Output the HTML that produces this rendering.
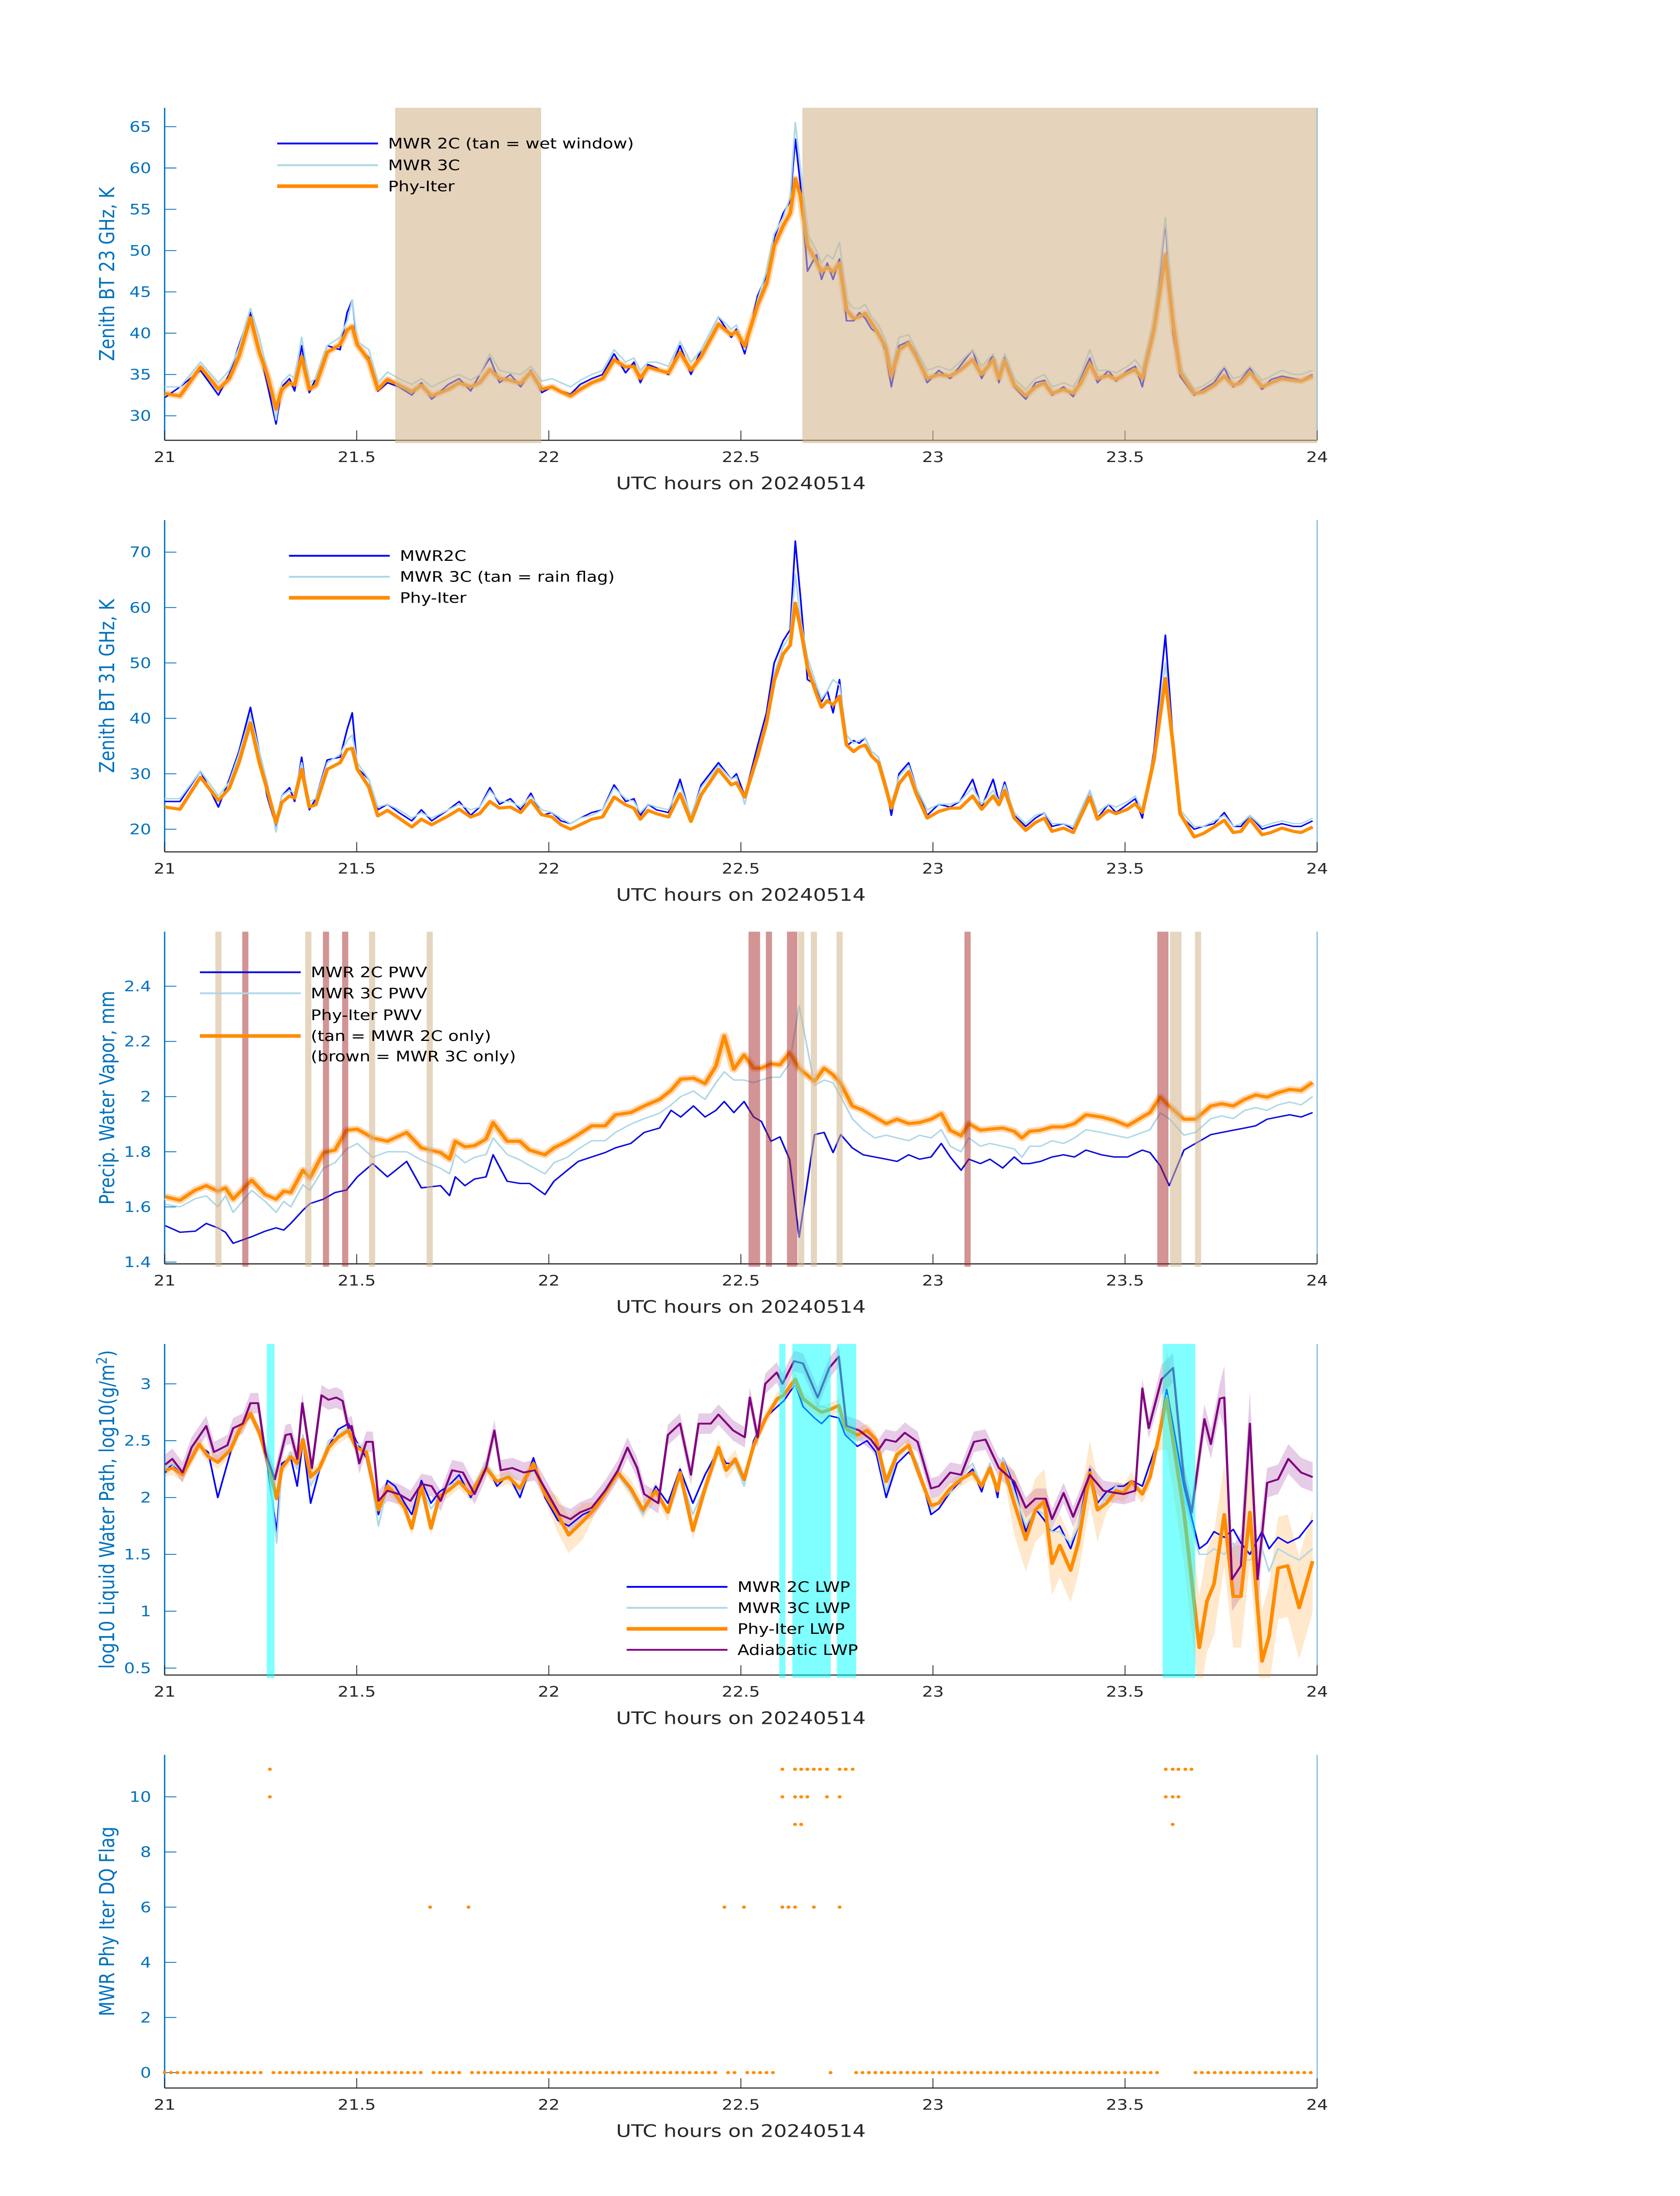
<!DOCTYPE html>
<html><head><meta charset="utf-8"><title>MWR 20240514</title>
<style>html,body{margin:0;padding:0;background:#fff;overflow:hidden;width:100vw;height:100vh}
svg{display:block;width:100vw;height:100vh}
text{font-family:"DejaVu Sans","Liberation Sans",sans-serif}</style></head>
<body>
<svg id="fig" xmlns="http://www.w3.org/2000/svg" viewBox="0 0 1000 1568.627" preserveAspectRatio="none"></svg>
<script>
// ---------- shared axis data ----------
const xTickLabels = ["21","21.5","22","22.5","23","23.5","24"];
const xTickHours = [21,21.5,22,22.5,23,23.5,24];

// ---------- Panel 1: 23 GHz ----------
const t23 = [0,2.4,5.6,8.4,10.1,11.6,13.4,14.8,16.0,17.4, 18.3,19.5,20.3,21.4,22.6,23.6,25.4,27.4,28.5,29.3, 30.1,31.9,33.3,34.8,36.6,38.6,40.1,41.7,44.3,46.0, 47.8,49.2,50.8,52.3,54.0,55.6,57.2,58.9,60.5,61.9, 63.4,64.9,66.7,68.4,70.2,72.0,73.3,74.3,75.5,76.8, 78.7,80.5,82.2,83.8,86.5,88.5,89.3,90.6,92.6,94.0, 95.2,96.6,97.7,98.5,99.3,100.4,101.8,102.6,103.5,104.4, 105.4,106.5,107.6,108.5,109.4,110.4,111.5,112.6,113.5,114.7, 116.2,117.4,119.1,120.9,122.7,124.2,126.2,127.6,129.4,130.3, 131.2,132.7,134.5,136.0,137.4,138.6,140.4,141.9,143.1,144.5, 145.7,147.4,148.6,150.4,151.6,152.7,154.5,156.3,157.5,158.6, 160.8,162.2,163.9,165.5,166.9,168.1,169.5,171.4,172.8,174.5, 176.3,177.5,179.3];
const phy23 = [32.7,32.4,35.9,33.2,34.5,37.2,41.9,37.7,35,30.8, 33.2,34,33.7,37.2,33.2,33.7,37.7,38.6,40.4,40.8, 38.6,36.7,33.2,34.4,33.7,32.9,33.7,32.4,33.2,34, 33.5,34,35.6,34.5,34.3,33.9,35.3,33.2,33.5,32.9, 32.4,33.2,34,34.5,36.8,35.9,36,34.5,35.9,35.6, 35.2,37.7,35.5,37.2,41.1,39.8,40.2,38.4,43.4,46, 50.6,53,54.5,58.7,56.7,50.6,48.7,47.4,48,47.4, 48.5,42.8,41.8,42,42.4,41.2,39.9,38.3,34.8,38, 38.8,37.2,34.5,35,34.8,35.5,36.8,35,36.8,34.5, 36.7,33.7,32.4,33.5,34,32.7,33.2,32.7,34,36.3, 34.5,34.9,34.4,35.2,35.6,34.5,40.4,49.5,41.2,35.3, 32.7,32.9,33.7,34.8,33.7,34,35.3,33.5,34,34.5, 34.3,34.2,34.8];
const mwr2c23 = [32.2,33.5,35.5,32.5,35,38.5,42.5,38,34,29, 33.5,34.5,33,38.5,32.8,34.5,38.5,38,42.5,44, 38.5,37,33,34,33.5,32.5,34,32,33.8,34.5, 33,35,37,34,35,33.5,35.5,32.8,33.5,33, 32.6,33.8,34.5,35,37.5,35.2,36.5,34,36.2,35.8, 35,38.5,35,38,42,39.5,40.5,37.5,44.5,47, 51.5,54.5,56,63.5,58,47.5,49.5,46.5,48.5,46.5, 49,41.5,41.5,42.5,41.8,40.5,40,37.8,33.5,38.5, 39,37.5,34,35.5,34.5,36,38,34.5,37.5,34, 37.5,33.5,32,34,34.3,32.5,33.5,32.3,34.5,37, 34,35.5,34.2,35.5,36,33.5,41,53.5,40,34.8, 32.5,33.2,34,35.8,33.5,34.3,35.8,33.2,34.4,34.8, 34.5,34.3,35];
const mwr3c23 = [33.5,33.5,36.5,34,35.5,38.2,43,39.5,35.5,29.5, 34,35,34.5,39.5,34,34.5,38.5,39.5,41.5,44, 39,38,34,35.3,34.5,33.8,34.5,33.5,34.5,35, 34.3,35,37.5,35.5,35.2,35,36,34.2,34.5,34, 33.5,34.3,35,35.5,38,36.5,37,35.5,36.5,36.5, 36,39,36.5,38,42,40.5,41,38,44,47.5, 52,54,56.5,65.5,60,52,50,48.5,49.5,49, 51,44,43,43,43.5,42,41,39.2,35.5,39.5, 39.8,38,35.5,36,35.5,36.5,38,36,37.5,35.5, 37.5,34.5,33.2,34.5,35,33.5,34,33.5,35,38, 35.5,35.5,35.2,36,36.8,35.5,41.5,54,42,36, 33.2,33.6,34.5,36,34.5,34.8,36,34.3,34.8,35.5, 35,35,35.5];
const wetStart = [21.6,22.66];
const wetEnd = [21.98,24.0];
const yTicks1 = [30,35,40,45,50,55,60,65];

// ---------- Panel 2: 31 GHz ----------
const phy31 = [24,23.6,29.4,25.2,27.4,32,39.2,32,27.2,21.2, 24.8,26,25.6,30.8,24,24.4,30.8,32,34.4,34.6, 30.8,27.6,22.4,23.4,22,20.4,21.8,20.8,22.4,23.6, 22.2,22.8,25,23.8,24,23,25.2,22.6,22.2,20.8, 20,20.8,21.8,22.2,25.8,24.4,23.8,21.8,23.4,22.8, 22.2,26.4,21.4,26.2,30.8,28,28.4,25.8,33.2,39.2, 46.8,51.6,53.2,60.8,56.4,49.2,44.4,42,43.2,42.4, 44,35.2,34,34.8,35.2,33.2,32,27.6,23.8,28.2, 30.4,26.4,22,23.2,23.8,23.8,26,23.6,26,24.4, 27,22,19.8,21.2,22,19.6,20.2,19.4,22.4,25.8, 21.8,23.4,22.8,23.6,24.6,23,32.4,47.2,35.2,22.8, 18.6,19.2,20.4,21.6,19.4,19.6,21.8,19,19.4,20.2, 19.6,19.4,20.4];
const mwr2c31 = [25,25,30.5,24,29,34,42,34,26,20.5, 26,27.5,25,33,23.5,25.5,32.5,33,38,41, 31,29,23.5,24.5,23,21.5,23.5,21.5,23.5,25, 22.5,24,27.5,24.5,25.5,23.5,26.5,22.5,23,21.5, 21,22,23,23.5,28,25,25.5,22.5,24.5,23.5, 23,29,22,28,32,29,30,26,35,41, 50,54,56,72,62,47,46,43,45,41, 47,35,36,35.5,36.5,34,33,28,22.5,30, 32,27.5,22.5,24.5,24,25,29,24,29,25, 28.5,22.5,20.5,22,23,20.5,21,20,23,27, 22,24.5,23,24.5,25.5,22,34,55,36,22.5, 20,20.5,21,23,20.5,20.5,22.5,20,20.5,21, 20.5,20.5,21.5];
const mwr3c31 = [25.5,25.5,30.5,26,28.5,33.5,40.5,34,28.5,19.5, 26,27,26.5,32,25,25.5,32,33.5,36,37, 32,29,24,24.5,23.5,22,23,22,23.5,24.5, 23.5,24,27,25,25,24,26,23.5,23,22, 21,22,22.5,23.5,27.5,25.5,25,23,24.5,24, 23.5,28,22.5,27.5,31.5,29,29.5,24.5,34,40, 48,53,55,66,58,51,46,43.5,45,47, 46,37,35.5,36,36.5,34,33,28.5,24.5,29.5, 31.5,27.5,23.5,24.5,24.5,25,27.5,24.5,27,25, 28,23,21,22.5,23,21,21,20.5,23.5,27, 23,24.5,24,25,26,23.5,33.5,50,36,23.5, 20.5,20.5,21.5,22.5,20.5,21,22.5,20.5,21,21.5, 21,21,22];
const yTicks2 = [20,30,40,50,60,70];

// ---------- Panel 3: PWV ----------
const tPwv = [0.1,2.4,4.8,6.5,8.3,9.5,10.7,13.6,15.7,17.4, 18.6,19.7,21.6,22.7,24.8,26.6,28.4,30.1,32.5,34.8, 37.8,40.1,43.1,44.5,45.4,46.9,48.4,50.2,51.3,53.5, 55.5,57.0,59.4,60.8,62.9,64.6,66.7,68.8,70.4,72.8, 74.9,77.3,79.1,80.6,82.6,84.4,86.1,87.4,88.9,90.5, 92.0,93.2,94.7,96.1,97.6,99.1,101.5,103.0,104.4,105.6, 107.4,109.1,110.9,112.7,114.4,116.2,117.9,119.7,121.3,122.7, 124.4,125.6,127.4,128.9,130.9,132.7,133.9,135.1,136.8,138.6, 140.4,142.1,143.9,146.3,148.3,150.4,152.7,153.9,155.5,156.9, 159.2,161.0,163.4,165.1,166.9,168.7,170.4,172.2,173.9,175.7, 177.5,179.3];
const phyPwv = [1.637,1.624,1.661,1.677,1.657,1.669,1.628,1.697,1.645,1.628, 1.657,1.652,1.733,1.705,1.797,1.806,1.878,1.882,1.85,1.838, 1.87,1.814,1.797,1.773,1.838,1.818,1.822,1.846,1.906,1.838, 1.838,1.806,1.789,1.814,1.838,1.862,1.894,1.894,1.934,1.942, 1.966,1.99,2.023,2.063,2.067,2.047,2.111,2.22,2.099,2.151, 2.103,2.103,2.119,2.115,2.159,2.103,2.055,2.103,2.079,2.047, 1.966,1.95,1.926,1.902,1.918,1.902,1.906,1.918,1.938,1.878, 1.858,1.902,1.878,1.882,1.886,1.874,1.85,1.874,1.878,1.89, 1.89,1.902,1.934,1.926,1.914,1.894,1.926,1.942,1.998,1.966, 1.918,1.918,1.966,1.974,1.966,1.99,2.006,1.998,2.014,2.026, 2.022,2.051];
const mwr3cPwv = [1.61,1.6,1.63,1.64,1.6,1.64,1.58,1.66,1.62,1.58, 1.62,1.6,1.68,1.66,1.74,1.76,1.81,1.83,1.78,1.8, 1.8,1.77,1.74,1.72,1.79,1.76,1.78,1.79,1.85,1.79, 1.77,1.75,1.72,1.76,1.78,1.81,1.84,1.84,1.87,1.9, 1.92,1.94,1.97,2.0,2.02,1.99,2.05,2.09,2.06,2.06, 2.05,2.06,2.07,2.07,2.12,2.33,2.04,2.06,2.05,2.0, 1.92,1.88,1.85,1.86,1.85,1.84,1.86,1.85,1.88,1.82, 1.8,1.85,1.82,1.83,1.82,1.81,1.78,1.82,1.82,1.84, 1.83,1.85,1.88,1.87,1.86,1.85,1.87,1.88,1.94,1.92, 1.86,1.87,1.92,1.93,1.92,1.95,1.96,1.95,1.97,1.98, 1.97,2.0];
const mwr2cPwv = [1.532,1.508,1.512,1.54,1.524,1.508,1.468,1.492,1.512,1.524, 1.516,1.54,1.588,1.612,1.628,1.652,1.661,1.709,1.757,1.709, 1.765,1.669,1.677,1.641,1.709,1.677,1.701,1.709,1.789,1.693, 1.685,1.685,1.645,1.693,1.733,1.765,1.781,1.797,1.814,1.83, 1.87,1.886,1.95,1.926,1.966,1.926,1.95,1.982,1.942,1.982, 1.926,1.91,1.838,1.854,1.773,1.49,1.862,1.87,1.797,1.862, 1.814,1.789,1.781,1.773,1.765,1.789,1.773,1.781,1.83,1.781, 1.733,1.773,1.757,1.773,1.741,1.781,1.757,1.757,1.765,1.781, 1.789,1.781,1.806,1.789,1.781,1.781,1.806,1.797,1.749,1.677, 1.806,1.83,1.862,1.87,1.878,1.886,1.894,1.918,1.926,1.934, 1.926,1.942];
const tanStart = [21.132,21.366,21.532,21.682,22.649,22.682,22.749,23.617,23.682];
const tanEnd   = [21.148,21.382,21.548,21.698,22.665,22.698,22.765,23.647,23.698];
const brownStart = [21.202,21.412,21.462,22.52,22.565,22.62,23.082,23.584];
const brownEnd   = [21.218,21.428,21.478,22.55,22.581,22.647,23.098,23.613];
const yTicks3 = [1.4,1.6,1.8,2,2.2,2.4];
const yTickLabels3 = ["1.4","1.6","1.8","2","2.2","2.4"];

// ---------- Panel 4: LWP ----------
const tLwp = [0.1,1.2,2.8,5.4,6.8,8.3,10.3,11.8,13.4,14.8, 16.0,17.5,18.3,19.7,20.7,21.6,22.8,24.2,25.6,27.1, 28.7,29.9,31.5,33.4,34.8,36.0,37.5,38.6,40.1,41.6, 42.9,44.3,46.0,47.8,50.2,51.9,53.7,55.5,57.6,59.4, 61.4,63.1,65.3,67.3,69.0,70.8,72.8,74.7,76.7,78.6, 80.5,82.5,84.4,86.5,87.7,89.1,90.5,92.0,93.8,95.7, 96.7,98.5,99.7,101.5,102.6,103.8,105.3,106.3,108.2,109.7, 111.1,112.7,114.4,116.2,117.6,119.7,120.9,122.7,124.4,126.2, 127.6,128.9,130.1,130.9,132.7,134.5,136.0,137.4,138.6,139.8, 141.5,142.7,144.5,145.7,147.1,148.6,149.8,151.0,152.7,153.9, 155.1,156.5,159.2,161.6,162.8,163.9,165.5,166.9,168.1,169.5, 171.4,172.5,173.9,175.4,177.2,179.3];
const phyLwp = [2.24,2.26,2.2,2.47,2.36,2.31,2.42,2.61,2.74,2.57, 2.34,1.99,2.26,2.36,2.3,2.51,2.18,2.26,2.44,2.53, 2.59,2.44,2.4,1.89,2.1,2.03,1.91,1.73,2.1,1.73, 2.01,2.06,2.14,2.03,2.26,2.14,2.18,2.08,2.3,2.03, 1.85,1.67,1.79,1.91,2.06,2.22,2.08,1.89,2.06,1.87, 2.22,1.71,2.08,2.44,2.24,2.34,2.16,2.46,2.69,2.87, 2.9,3.04,2.87,2.79,2.75,2.77,2.81,2.61,2.55,2.59, 2.51,2.14,2.38,2.46,2.24,1.93,1.95,2.08,2.16,2.22, 2.1,2.26,2.06,2.3,1.95,1.63,1.89,1.97,1.42,1.58, 1.36,1.6,2.22,1.89,1.95,2.06,2.04,2.14,2.03,2.18, 2.49,2.87,1.87,0.68,1.09,1.24,1.85,1.13,1.13,1.87, 0.56,0.78,1.38,1.4,1.03,1.44];
const mwr2cLwp = [2.22,2.3,2.2,2.45,2.4,2.0,2.4,2.6,2.72,2.55, 2.3,1.7,2.3,2.35,2.1,2.5,1.95,2.25,2.45,2.6, 2.65,2.5,2.35,1.85,2.15,2.1,1.95,1.85,2.15,1.95, 2.05,2.1,2.2,2.0,2.3,2.1,2.2,2.0,2.35,2.0, 1.8,1.75,1.85,1.9,2.1,2.2,2.05,1.85,2.1,1.95, 2.25,1.95,2.2,2.42,2.3,2.3,2.15,2.5,2.7,2.8, 2.85,3.0,2.8,2.7,2.65,2.72,2.7,2.55,2.45,2.5, 2.4,2.0,2.3,2.4,2.3,1.85,1.9,2.05,2.15,2.25, 2.05,2.3,2.0,2.35,2.1,1.7,1.9,1.8,1.7,1.75, 1.55,1.75,2.25,1.95,2.05,2.1,2.1,2.15,2.1,2.3, 2.5,2.95,2.1,1.55,1.6,1.7,1.65,1.72,1.6,1.5, 1.7,1.55,1.65,1.6,1.65,1.8];
const mwr3cLwp = [2.26,2.3,2.22,2.45,2.38,2.3,2.45,2.62,2.75,2.6, 2.4,1.6,2.25,2.4,2.25,2.55,2.1,2.25,2.5,2.55, 2.62,2.48,2.42,1.75,2.1,2.0,1.92,1.75,2.1,1.9, 2.0,2.1,2.15,2.05,2.3,2.15,2.2,2.05,2.3,2.05, 1.85,1.7,1.8,1.9,2.1,2.2,2.05,1.85,2.05,1.9, 2.2,1.85,2.1,2.4,2.25,2.3,2.1,2.45,2.7,2.85, 2.9,3.0,2.85,2.8,2.8,2.78,2.8,2.65,2.5,2.55, 2.45,2.05,2.35,2.45,2.3,1.9,1.95,2.05,2.2,2.3, 2.1,2.3,2.05,2.35,2.05,1.75,1.9,1.85,1.7,1.7, 1.6,1.75,2.2,1.9,2.0,2.1,2.05,2.15,2.05,2.2, 2.45,2.9,2.0,1.5,1.5,1.55,1.5,1.6,1.45,1.45, 1.55,1.35,1.55,1.5,1.45,1.55];
const tAdi = [0.1,1.2,2.8,4.2,6.5,7.7,9.8,10.7,12.2,13.4, 14.6,15.7,17.2,18.9,19.7,20.7,21.5,23.0,24.5,25.6, 26.8,27.8,28.7,29.2,30.4,31.5,32.5,33.4,34.8,36.6, 38.4,40.1,41.7,43.1,44.9,46.6,48.4,50.2,51.5,52.5, 54.3,56.1,57.8,59.6,61.7,63.4,64.9,66.7,68.8,70.8, 72.3,73.8,74.9,77.1,78.6,80.5,82.2,83.4,85.3,86.5, 88.8,90.6,91.4,92.6,93.8,95.6,96.5,98.3,99.7,102.0, 103.8,105.3,106.5,108.5,110.3,111.5,112.6,114.2,115.6,117.6, 119.7,120.9,122.7,124.4,126.4,128.2,130.3,132.7,134.5,136.0, 137.6,138.6,140.4,141.9,144.5,146.6,148.6,149.8,151.6,152.7, 153.7,155.7,157.5,159.2,160.4,162.4,163.4,164.8,165.5,166.7, 168.1,169.5,170.7,172.2,173.9,175.5,177.5,179.3];
const adiLwp = [2.29,2.34,2.22,2.44,2.63,2.4,2.46,2.61,2.65,2.83, 2.83,2.4,2.16,2.55,2.56,2.34,2.83,2.26,2.9,2.86, 2.88,2.85,2.61,2.63,2.3,2.49,2.49,1.97,2.06,2.03, 1.97,2.12,2.1,1.97,2.24,2.22,2.03,2.26,2.59,2.24, 2.26,2.22,2.24,2.06,1.85,1.81,1.87,1.91,2.06,2.24, 2.44,2.26,2.03,1.95,2.55,2.65,2.2,2.65,2.65,2.73, 2.59,2.53,2.88,2.53,3.0,3.1,3.0,3.2,3.18,2.88, 3.14,3.24,2.63,2.59,2.51,2.42,2.51,2.49,2.57,2.49, 2.08,2.1,2.22,2.2,2.49,2.51,2.26,2.14,1.91,1.99, 1.99,1.81,2.04,1.83,2.2,2.06,2.04,2.03,2.06,2.96, 2.61,3.04,3.14,2.16,1.87,2.69,2.47,2.87,2.88,1.28, 1.4,2.65,1.28,2.13,2.16,2.34,2.22,2.18];
// uncertainty segments: [start minute, end minute, half-width]
const phyErrSeg = [[0,60,0.06],[60,66,0.16],[66,72,0.05],[72,90,0.08],[90,132,0.06],[132,146,0.28],[146,156,0.08],[156,181,0.45]];
const adiErrSeg = [[0,155,0.09],[155,165,0.13],[165,172,0.28],[172,181,0.13]];
const cyanStart = [21.266,22.600,22.634,22.750,23.598];
const cyanEnd   = [21.286,22.616,22.734,22.800,23.683];
const yTicks4 = [0.5,1,1.5,2,2.5,3];
const yTickLabels4 = ["0.5","1","1.5","2","2.5","3"];

// ---------- Panel 5: DQ flag ----------
const dq11Hours = [21.274,22.608,22.641,22.657,22.673,22.690,22.706,22.724,22.757,22.773,22.791,23.606,23.624,23.639,23.657,23.673];
const dq10Hours = [21.274,22.608,22.641,22.657,22.673,22.724,22.757,23.606,23.624,23.639];
const dq9Hours = [22.641,22.657,23.624];
const dq6Hours = [21.691,21.791,22.457,22.508,22.608,22.624,22.641,22.690,22.757];
const dq0MinuteRanges = [[0,15],[17,40],[42,46],[48,86],[88,89],[91,95],[104,104],[108,155],[161,179]];
const yTicks5 = [0,2,4,6,8,10];

// ================= drawing =================
const NS = "http://www.w3.org/2000/svg";
const svg = document.getElementById("fig");
const XL = 98, XR = 784;
function xH(h){ return XL + (h-21)/3*(XR-XL); }
function xM(m){ return XL + m/180*(XR-XL); }
function mk(tag, attrs, parent){
  const e = document.createElementNS(NS, tag);
  for (const k in attrs) e.setAttribute(k, attrs[k]);
  (parent||svg).appendChild(e);
  return e;
}
function linePath(ts, vs, yf){
  let d = "";
  for (let i=0;i<ts.length;i++){ d += (i?"L":"M") + xM(ts[i]).toFixed(2) + "," + yf(vs[i]).toFixed(2); }
  return d;
}
function errAt(seg, t){ for (const s of seg){ if (t>=s[0] && t<s[1]) return s[2]; } return seg[seg.length-1][2]; }
function bandPath(ts, vs, seg, yf){
  let up="", dn=[];
  for (let i=0;i<ts.length;i++){
    const e = errAt(seg, ts[i]);
    up += (i?"L":"M") + xM(ts[i]).toFixed(2) + "," + yf(vs[i]+e).toFixed(2);
    dn.push("L" + xM(ts[i]).toFixed(2) + "," + yf(vs[i]-e).toFixed(2));
  }
  return up + dn.reverse().join("") + "Z";
}

const panels = [
  {id:1, top:77, bot:314.5, ya:297, va:30, yb:90.5, vb:65, label:"Zenith BT 23 GHz, K"},
  {id:2, top:371.5, bot:608.5, ya:592.3, va:20, yb:394.4, vb:70, label:"Zenith BT 31 GHz, K"},
  {id:3, top:665.5, bot:902.8, ya:901.5, va:1.4, yb:704.5, vb:2.4, label:"Precip. Water Vapor, mm"},
  {id:4, top:960, bot:1196.5, ya:1191.5, va:0.5, yb:988.5, vb:3, label:null},
  {id:5, top:1253.5, bot:1491.5, ya:1480.5, va:0, yb:1283.5, vb:10, label:"MWR Phy Iter DQ Flag"}
];
panels.forEach(p => { p.y = v => p.ya + (v - p.va) * (p.yb - p.ya) / (p.vb - p.va); });

function frame(p, ticks, tickLabels){
  const g = mk("g", {});
  
  
  const cp = mk("clipPath", {id:"clip"+p.id}, g);
  mk("rect", {x:XL, y:p.top, width:XR-XL, height:p.bot-p.top+2}, cp);
  const la = mk("line", {x1:XL, y1:p.top, x2:XL, y2:p.bot, stroke:"#0072bd", "stroke-width":0.8}, g);
  
  
  const ra = mk("line", {x1:XR, y1:p.top, x2:XR, y2:p.bot, stroke:"#6fb2de", "stroke-width":0.6}, g);
  
  
  const ba = mk("line", {x1:XL, y1:p.bot, x2:XR, y2:p.bot, stroke:"#262626", "stroke-width":0.8}, g);
  
  
  ticks.forEach((v,i) => {
    const yy = p.y(v);
    const tk = mk("line", {x1:XL, y1:yy, x2:XL+7, y2:yy, stroke:"#0072bd", "stroke-width":0.6}, g);
    
    
    const tl = mk("text", {x:90, y:yy+3.6, "text-anchor":"end", "font-size":10.2, fill:"#0072bd"}, g);
    tl.textContent = tickLabels ? tickLabels[i] : String(v);
    
    
  });
  xTickHours.forEach((h,i) => {
    const xx = xH(h);
    const tk = mk("line", {x1:xx, y1:p.bot, x2:xx, y2:p.bot-7, stroke:"#262626", "stroke-width":0.5}, g);
    
    
    const tl = mk("text", {x:xx, y:p.bot+15.5, "text-anchor":"middle", "font-size":10.2, fill:"#262626"}, g);
    tl.textContent = xTickLabels[i];
    
    
  });
  const xl = mk("text", {x:441, y:p.bot+35, "text-anchor":"middle", "font-size":12.3, fill:"#262626"}, g);
  xl.textContent = "UTC hours on 20240514";
  
  
  const cy = (p.top + p.bot)/2;
  const yl = mk("text", {x:0, y:0, transform:"translate(68," + cy + ") rotate(-90)", "text-anchor":"middle", "font-size":12.3, fill:"#0072bd"}, g);
  if (p.label) { yl.textContent = p.label; }
  else {
    yl.textContent = "log10 Liquid Water Path, log10(g/m";
    const sup = mk("tspan", {dy:-4.5, "font-size":8.5}, yl);
    sup.textContent = "2";
    const cl = mk("tspan", {dy:4.5}, yl);
    cl.textContent = ")";
  }
  
  
}

function series(p, ts, vs, color, w, name, opacity){
  const e = mk("path", {d:linePath(ts, vs, p.y), fill:"none", stroke:color, "stroke-width":w, "stroke-linejoin":"round", "clip-path":"url(#clip"+p.id+")", opacity:(opacity||1)});
  
  
  return e;
}
function bands(p, starts, ends, fill, name){
  starts.forEach((s,i) => {
    const r = mk("rect", {x:xH(s), y:p.top, width:Math.max(0.5, xH(ends[i])-xH(s)), height:p.bot-p.top+2, fill:fill});
    
    
  });
}
function legend(x1, rows){
  const g = mk("g", {});
  
  
  rows.forEach(r => {
    if (r.color){
      const l = mk("line", {x1:x1, y1:r.ly, x2:x1+60, y2:r.ly, stroke:r.color, "stroke-width":r.w}, g);
      
      
    }
    const t = mk("text", {x:x1+66, y:r.ty+3.6, "font-size":10.2, fill:"#000"}, g);
    t.textContent = r.text;
    
    
  });
}

// ---- Panel 1
(function(){
  const p = panels[0];
  frame(p, yTicks1);
  series(p, t23, phy23, "#ffd7b0", 4.5, "phy-iter-uncertainty");
  series(p, t23, mwr2c23, "#0000ff", 1.0, "mwr-2c-23ghz-line");
  series(p, t23, mwr3c23, "#add8e6", 1.0, "mwr-3c-23ghz-line");
  series(p, t23, phy23, "#ff8c00", 2.2, "phy-iter-23ghz-line");
  bands(p, wetStart, wetEnd, "rgba(210,180,140,0.58)", "wet-window-band");
  legend(165, [
    {color:"#0000ff", w:1.3, ly:102.5, ty:102.5, text:"MWR 2C (tan = wet window)"},
    {color:"#add8e6", w:1.3, ly:118, ty:118, text:"MWR 3C"},
    {color:"#ff8c00", w:2.6, ly:133, ty:133, text:"Phy-Iter"}
  ]);
})();
// ---- Panel 2
(function(){
  const p = panels[1];
  frame(p, yTicks2);
  series(p, t23, mwr2c31, "#0000ff", 1.0, "mwr-2c-31ghz-line");
  series(p, t23, mwr3c31, "#add8e6", 1.0, "mwr-3c-31ghz-line");
  series(p, t23, phy31, "#ff8c00", 2.2, "phy-iter-31ghz-line");
  legend(172, [
    {color:"#0000ff", w:1.3, ly:397, ty:397, text:"MWR2C"},
    {color:"#add8e6", w:1.3, ly:412, ty:412, text:"MWR 3C (tan = rain flag)"},
    {color:"#ff8c00", w:2.6, ly:427, ty:427, text:"Phy-Iter"}
  ]);
})();
// ---- Panel 3
(function(){
  const p = panels[2];
  frame(p, yTicks3, yTickLabels3);
  series(p, tPwv, mwr2cPwv, "#0a0ae0", 1.0, "mwr-2c-pwv-line");
  series(p, tPwv, mwr3cPwv, "#add8e6", 1.0, "mwr-3c-pwv-line");
  series(p, tPwv, phyPwv, "#ffd7b0", 5, "phy-iter-pwv-uncertainty");
  series(p, tPwv, phyPwv, "#ff8c00", 2.2, "phy-iter-pwv-line");
  bands(p, tanStart, tanEnd, "rgba(210,180,140,0.55)", "tan-band-mwr2c-only");
  bands(p, brownStart, brownEnd, "rgba(165,42,42,0.5)", "brown-band-mwr3c-only");
  legend(119, [
    {color:"#0a0ae0", w:1.3, ly:694.5, ty:694.5, text:"MWR 2C PWV"},
    {color:"#add8e6", w:1.3, ly:709.5, ty:709.5, text:"MWR 3C PWV"},
    {color:null, ty:725, text:"Phy-Iter PWV"},
    {color:"#ff8c00", w:2.6, ly:740, ty:740, text:"(tan = MWR 2C only)"},
    {color:null, ty:754.5, text:"(brown = MWR 3C only)"}
  ]);
})();
// ---- Panel 4
(function(){
  const p = panels[3];
  frame(p, yTicks4, yTickLabels4);
  const b1 = mk("path", {d:bandPath(tAdi, adiLwp, adiErrSeg, p.y), fill:"rgba(128,0,128,0.2)", stroke:"none", "clip-path":"url(#clip4)"});
  
  
  const b2 = mk("path", {d:bandPath(tLwp, phyLwp, phyErrSeg, p.y), fill:"rgba(255,140,0,0.2)", stroke:"none", "clip-path":"url(#clip4)"});
  
  
  series(p, tLwp, mwr2cLwp, "#0000ff", 1.0, "mwr-2c-lwp-line");
  series(p, tLwp, mwr3cLwp, "#add8e6", 1.0, "mwr-3c-lwp-line");
  series(p, tLwp, phyLwp, "#ff8c00", 2.2, "phy-iter-lwp-line");
  series(p, tAdi, adiLwp, "#800080", 1.3, "adiabatic-lwp-line");
  bands(p, cyanStart, cyanEnd, "rgba(0,255,255,0.5)", "cyan-flag-band");
  legend(373, [
    {color:"#0000ff", w:1.3, ly:1133.5, ty:1133.5, text:"MWR 2C LWP"},
    {color:"#add8e6", w:1.3, ly:1148.5, ty:1148.5, text:"MWR 3C LWP"},
    {color:"#ff8c00", w:2.6, ly:1163.5, ty:1163.5, text:"Phy-Iter LWP"},
    {color:"#800080", w:1.3, ly:1178.5, ty:1178.5, text:"Adiabatic LWP"}
  ]);
})();
// ---- Panel 5
(function(){
  const p = panels[4];
  frame(p, yTicks5);
  function dot(h, v){
    const c = mk("circle", {cx:xH(h), cy:p.y(v), r:1.15, fill:"#ff8c00"});
    
    
  }
  dq0MinuteRanges.forEach(r => { for (let m=r[0]; m<=r[1]; m++) dot(21 + m/60, 0); });
  dq6Hours.forEach(h => dot(h, 6));
  dq9Hours.forEach(h => dot(h, 9));
  dq10Hours.forEach(h => dot(h, 10));
  dq11Hours.forEach(h => dot(h, 11));
})();
</script>
</body></html>
